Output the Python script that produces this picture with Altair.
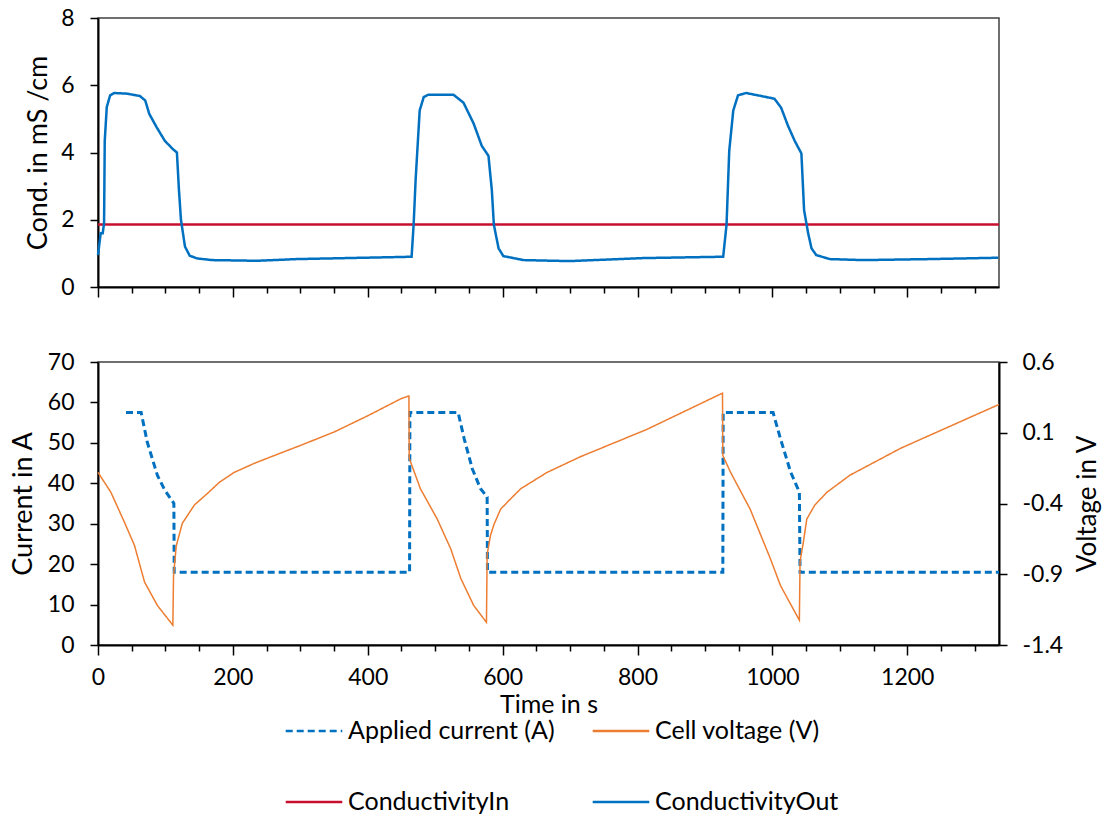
import altair as alt
import pandas as pd

# ---------------- data ----------------
t_out = [0, 4, 7, 9, 10, 13, 18, 24, 43, 62, 70, 76, 87, 99, 111, 117, 120, 123, 129, 136,
         147, 169, 236, 295, 369, 443, 465, 468, 471, 477, 483, 490, 527, 542, 557, 569, 579, 584, 587, 594,
         601, 631, 699, 809, 927, 932, 936, 942, 949, 961, 1003, 1013, 1023, 1033, 1043, 1047, 1053, 1058, 1065, 1085,
         1135, 1233, 1335]
cond_out = [0.95, 1.6, 1.6, 1.9, 4.35, 5.35, 5.7, 5.77, 5.75, 5.68, 5.55, 5.15, 4.75, 4.35, 4.1, 4.0, 2.9, 2.0, 1.2, 0.93,
            0.85, 0.8, 0.78, 0.83, 0.86, 0.89, 0.9, 1.85, 3.2, 5.25, 5.65, 5.72, 5.72, 5.48, 4.86, 4.2, 3.9, 2.87, 1.85, 1.15,
            0.92, 0.8, 0.77, 0.86, 0.9, 1.85, 4.05, 5.25, 5.7, 5.77, 5.6, 5.33, 4.8, 4.35, 3.97, 2.28, 1.6, 1.15, 0.95, 0.83,
            0.8, 0.83, 0.87]

t_in = [0, 300, 600, 900, 1200, 1336]
cond_in = [1.86, 1.86, 1.86, 1.86, 1.86, 1.86]

t_cur = [41.5, 64, 73, 88, 99, 111, 112.5, 113, 462, 462.5, 534, 543, 555, 567, 577, 577.5,
         926.5, 927, 1001, 1012, 1027, 1040, 1041, 1336]
current = [57.5, 57.5, 50.2, 42, 38.3, 35.4, 35, 18, 18, 57.5, 57.5, 51, 43.6, 38.7, 36.6, 18,
           18, 57.5, 57.5, 51, 42.8, 37.8, 18, 18]

t_volt = [0, 19, 39, 54, 69, 88, 111, 112, 116, 125, 143, 162, 180, 202, 230, 251, 300, 350, 400, 449, 461,
          461.5, 478, 503, 523, 538, 557, 576, 577, 582, 587, 597, 612, 627, 666, 715, 814, 926,
          926.5, 938, 967, 997, 1012, 1040, 1041, 1046, 1051, 1063, 1081, 1115, 1190, 1336]
voltage = [-0.18, -0.32, -0.53, -0.695, -0.955, -1.12, -1.26, -0.91, -0.70, -0.54, -0.41, -0.33, -0.25, -0.18, -0.12, -0.08, 0.01, 0.105, 0.22, 0.34, 0.36,
           -0.08, -0.295, -0.51, -0.72, -0.93, -1.12, -1.24, -0.76, -0.625, -0.55, -0.44, -0.366, -0.295, -0.18, -0.07, 0.124, 0.38,
           -0.06, -0.18, -0.44, -0.79, -0.98, -1.225, -0.81, -0.67, -0.51, -0.41, -0.32, -0.2, -0.01, 0.30]

series_names = ["Applied current (A)", "Cell voltage (V)", "ConductivityIn", "ConductivityOut"]
series_colors = ["#0070C0", "#ED7D31", "#C8102E", "#0070C0"]
series_dash = [[7, 4], [1, 0], [1, 0], [1, 0]]

x_ticks = list(range(0, 1301, 50))
cond_ticks = [0, 2, 4, 6, 8]
cur_ticks = [0, 10, 20, 30, 40, 50, 60, 70]
volt_ticks = [-1.4, -0.9, -0.4, 0.1, 0.6]

FONT = "Lato"
FS = 23      # tick labels
TFS = 27     # axis titles
LFS = 25     # legend labels
X_MAX = 1336

top_df = pd.concat([
    pd.DataFrame({"t": t_in, "value": cond_in, "series": series_names[2]}),
    pd.DataFrame({"t": t_out, "value": cond_out, "series": series_names[3]}),
])
cur_df = pd.DataFrame({"t": t_cur, "value": current, "series": series_names[0]})
volt_df = pd.DataFrame({"t": t_volt, "value": voltage, "series": series_names[1]})

color_scale = alt.Scale(domain=series_names, range=series_colors)
dash_scale = alt.Scale(domain=series_names, range=series_dash)
legend = alt.Legend(title=None, orient="none", legendX=186, legendY=683, direction="horizontal",
                    columns=2, symbolType="stroke", symbolSize=3200, symbolStrokeWidth=2.5,
                    labelFont=FONT, labelFontSize=LFS, labelColor="black", labelLimit=500,
                    columnPadding=32, rowPadding=28)

tick_size = {"condition": {"test": "datum.value % 200 === 0", "value": 10}, "value": 6}
x_scale = alt.Scale(domain=[0, X_MAX], nice=False, zero=False)

color_enc = alt.Color("series:N", scale=color_scale, legend=legend)
dash_enc = alt.StrokeDash("series:N", scale=dash_scale, legend=legend)

top = alt.Chart(top_df).mark_line(strokeWidth=2.5).encode(
    x=alt.X("t:Q", scale=x_scale,
            axis=alt.Axis(values=x_ticks, labels=False, title=None, tickSize=tick_size)),
    y=alt.Y("value:Q", scale=alt.Scale(domain=[0, 8], nice=False),
            axis=alt.Axis(values=cond_ticks, title="Cond. in mS /cm", tickSize=8,
                          labelPadding=16, titlePadding=8)),
    color=color_enc,
    strokeDash=dash_enc,
    order=alt.Order("t:Q"),
).properties(width=901, height=269)

x_bottom = alt.X("t:Q", scale=x_scale,
                 axis=alt.Axis(values=x_ticks, format="d", tickSize=tick_size,
                               labelExpr="datum.value % 200 === 0 ? datum.label : ''",
                               labelOverlap=False, labelPadding=11, title="Time in s", titlePadding=3,
                               titleFontSize=25))

cur_layer = alt.Chart(cur_df).mark_line(strokeWidth=3).encode(
    x=x_bottom,
    y=alt.Y("value:Q", scale=alt.Scale(domain=[0, 70], nice=False),
            axis=alt.Axis(values=cur_ticks, title="Current in A", tickSize=8,
                          labelPadding=16, titlePadding=10)),
    color=color_enc,
    strokeDash=dash_enc,
    order=alt.Order("t:Q"),
)
volt_layer = alt.Chart(volt_df).mark_line(strokeWidth=1.5).encode(
    x=x_bottom,
    y=alt.Y("value:Q", scale=alt.Scale(domain=[-1.4, 0.6], nice=False, zero=False),
            axis=alt.Axis(values=volt_ticks, orient="right", title="Voltage in V", tickSize=8,
                          labelExpr="toString(round(datum.value * 10) / 10)",
                          labelPadding=15, titlePadding=12, titleAngle=270, titleBaseline="top",
                          titleFontSize=26)),
    color=color_enc,
    strokeDash=dash_enc,
    order=alt.Order("t:Q"),
)
bottom = alt.layer(cur_layer, volt_layer).resolve_scale(y="independent").properties(width=901, height=283)

chart = alt.vconcat(top, bottom, spacing=50).resolve_scale(
    color="shared", strokeDash="shared"
).properties(
    padding={"left": 8, "top": 6, "right": 0, "bottom": 0},
    background="white",
).configure_view(
    stroke="#404040", strokeWidth=1.5
).configure_axis(
    domainColor="black", domainWidth=2, tickColor="black", tickWidth=1.5, grid=False,
    labelFont=FONT, labelFontSize=FS, labelColor="black", labelFlush=False,
    titleFont=FONT, titleFontSize=TFS, titleFontWeight="normal", titleColor="black",
)

chart.save("out.html", embed_options={"renderer": "svg", "actions": False})
